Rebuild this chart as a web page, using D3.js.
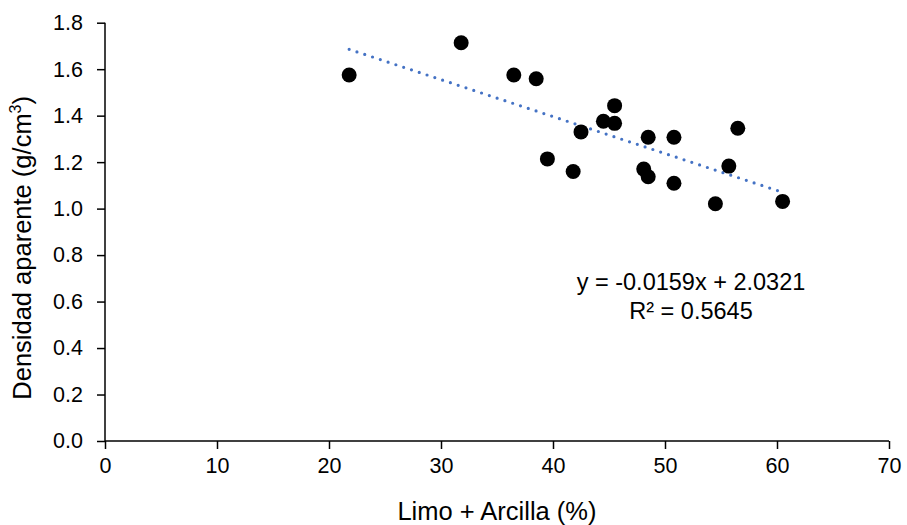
<!DOCTYPE html>
<html>
<head>
<meta charset="utf-8">
<script src="https://cdn.jsdelivr.net/npm/d3@7"></script>
<style>
  html, body { margin: 0; padding: 0; background: #fff; }
  svg { display: block; font-family: "Liberation Sans", Arial, sans-serif; }
</style>
</head>
<body>
<svg id="chart" width="907" height="525"></svg>
<script>
// Silt + clay content (%) and bulk density (g/cm3) for each sample
const limoArcilla = [21.8, 31.8, 36.5, 38.5, 39.5, 41.8, 42.5, 44.5, 45.5, 45.5,
                     48.1, 48.5, 48.5, 50.8, 50.8, 54.5, 55.7, 56.5, 60.5];
const densidad    = [1.575, 1.714, 1.575, 1.559, 1.214, 1.160, 1.330, 1.376, 1.443, 1.367,
                     1.170, 1.307, 1.137, 1.307, 1.109, 1.021, 1.183, 1.346, 1.031];

// Linear fit reported on the chart
const slope = -0.0159;
const intercept = 2.0321;
const r2 = 0.5645;

const xTicks = [0, 10, 20, 30, 40, 50, 60, 70];
const yTicks = [0, 0.2, 0.4, 0.6, 0.8, 1.0, 1.2, 1.4, 1.6, 1.8];

const svg = d3.select("#chart");
const m = { left: 105, right: 889, top: 22.7, bottom: 441 };

const x = d3.scaleLinear().domain([0, 70]).range([m.left, m.right]);
const y = d3.scaleLinear().domain([0, 1.8]).range([m.bottom, m.top]);

const tickFont = 21.5;
const titleFont = 25.5;
const eqFont = 23.5;

// Axes
const xAxis = d3.axisBottom(x).tickValues(xTicks).tickSize(8).tickPadding(9)
  .tickFormat(d3.format("d"));
const yAxis = d3.axisLeft(y).tickValues(yTicks).tickSize(8).tickPadding(14)
  .tickFormat(d3.format(".1f"));

const gx = svg.append("g").attr("transform", `translate(0,${m.bottom})`).call(xAxis);
const gy = svg.append("g").attr("transform", `translate(${m.left},0)`).call(yAxis);

[gx, gy].forEach(g => {
  g.select(".domain").attr("stroke", "#000").attr("stroke-width", 1.5);
  g.selectAll(".tick line").attr("stroke", "#000").attr("stroke-width", 1.5);
  g.selectAll(".tick text").attr("fill", "#000").attr("font-size", tickFont)
    .attr("font-family", "Liberation Sans, Arial, sans-serif");
});
// Plain axis lines, ticks drawn separately by the axis generator
gx.select(".domain").attr("d", `M${m.left},0H${m.right}`);
gy.select(".domain").attr("d", `M0,${m.bottom}V${m.top}`);

// Axis titles
svg.append("text")
  .attr("x", (m.left + m.right) / 2).attr("y", 520)
  .attr("text-anchor", "middle").attr("font-size", titleFont).attr("fill", "#000")
  .text("Limo + Arcilla (%)");

const yt = svg.append("text")
  .attr("transform", `translate(31,${(m.top + m.bottom) / 2 + 16}) rotate(-90)`)
  .attr("text-anchor", "middle").attr("font-size", titleFont).attr("fill", "#000");
yt.append("tspan").text("Densidad aparente (g/cm");
yt.append("tspan").attr("font-size", 16).attr("dy", -10).text("3");
yt.append("tspan").attr("dy", 10).text(")");

// Trendline across the observed range
const xMin = d3.min(limoArcilla), xMax = d3.max(limoArcilla);
svg.append("line")
  .attr("x1", x(xMin)).attr("y1", y(slope * xMin + intercept))
  .attr("x2", x(xMax)).attr("y2", y(slope * xMax + intercept))
  .attr("stroke", "#4472C4").attr("stroke-width", 3.2)
  .attr("stroke-linecap", "round").attr("stroke-dasharray", "0 8.2");

// Data points
svg.append("g").selectAll("circle")
  .data(limoArcilla.map((v, i) => [v, densidad[i]]))
  .join("circle")
  .attr("cx", d => x(d[0])).attr("cy", d => y(d[1]))
  .attr("r", 7.5).attr("fill", "#000");

// Equation label
const eq = svg.append("text").attr("text-anchor", "middle")
  .attr("font-size", eqFont).attr("fill", "#000");
eq.append("tspan").attr("x", 691).attr("y", 290)
  .text(`y = ${slope.toFixed(4)}x + ${intercept.toFixed(4)}`);
eq.append("tspan").attr("x", 691).attr("y", 319)
  .text(`R² = ${r2.toFixed(4)}`);
</script>
</body>
</html>
